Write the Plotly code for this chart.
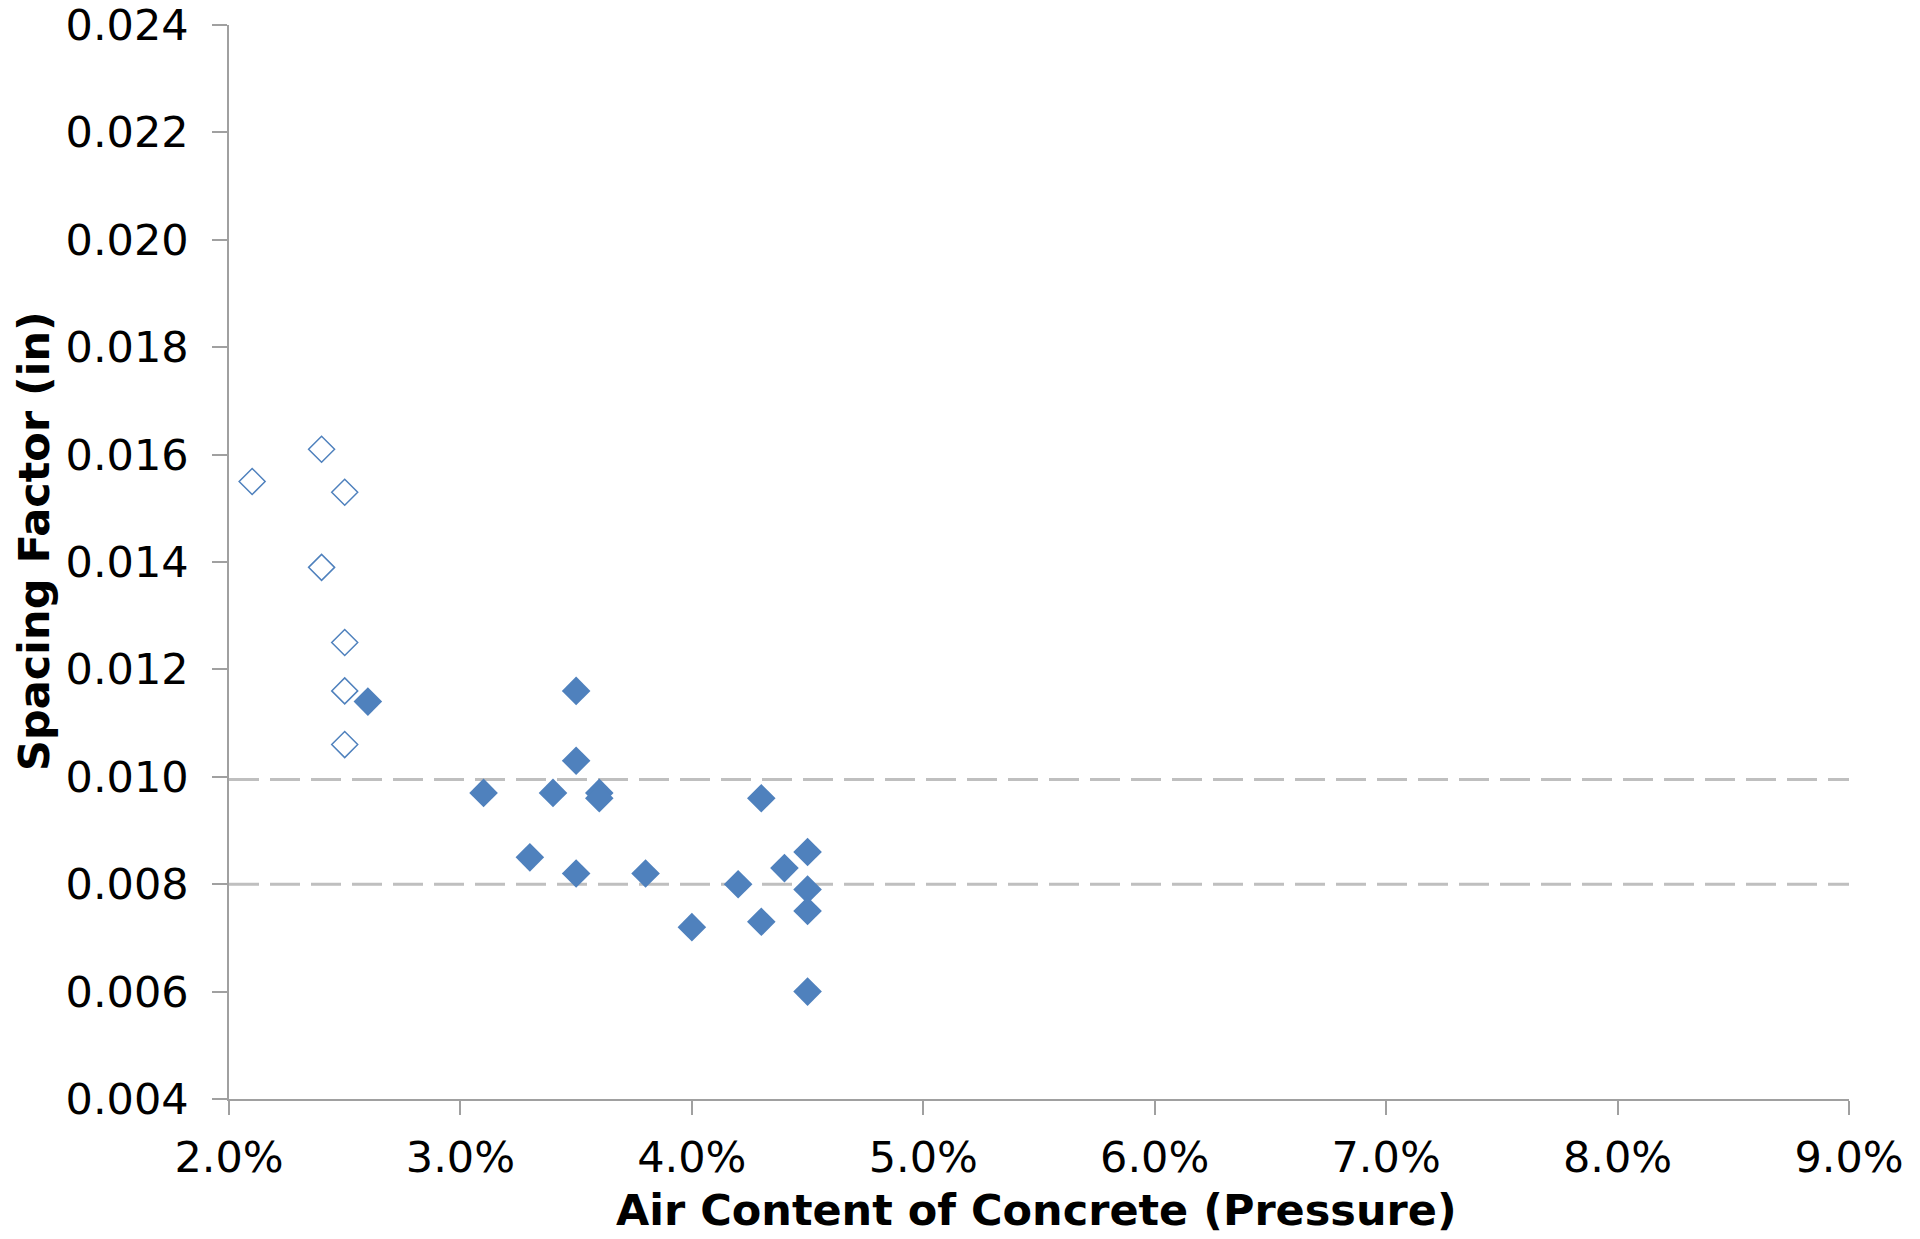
import plotly.graph_objects as go

# Data (air content as fraction, spacing factor in inches)
open_air = [0.021, 0.024, 0.025, 0.024, 0.025, 0.025, 0.025]
open_sf = [0.0155, 0.0161, 0.0153, 0.0139, 0.0125, 0.0116, 0.0106]

filled_air = [0.026, 0.031, 0.033, 0.034, 0.035, 0.035, 0.035, 0.036, 0.036, 0.038,
              0.040, 0.042, 0.043, 0.043, 0.044, 0.045, 0.045, 0.045, 0.045]
filled_sf = [0.0114, 0.0097, 0.0085, 0.0097, 0.0116, 0.0103, 0.0082, 0.0097, 0.0096, 0.0082,
             0.0072, 0.0080, 0.0096, 0.0073, 0.0083, 0.0086, 0.0079, 0.0075, 0.0060]

limit_lines = [0.00995, 0.0080]

x_range = [0.02, 0.09]
y_range = [0.004, 0.024]

BLUE = "#4F81BD"
AXIS = "#A0A0A0"
FONT = "DejaVu Sans"

fig = go.Figure()

fig.add_trace(go.Scatter(
    x=open_air, y=open_sf, mode="markers",
    marker=dict(symbol="diamond-open", size=20, color=BLUE, line=dict(width=1.5, color=BLUE)),
    showlegend=False,
))
fig.add_trace(go.Scatter(
    x=filled_air, y=filled_sf, mode="markers",
    marker=dict(symbol="diamond", size=22, color=BLUE, line=dict(width=0)),
    showlegend=False,
))

for yv in limit_lines:
    fig.add_shape(type="line", xref="x", yref="y", x0=x_range[0], x1=x_range[1], y0=yv, y1=yv,
                  line=dict(color="#BFBFBF", width=3, dash="30px,11px"), layer="below")

fig.update_layout(
    width=1920, height=1239,
    margin=dict(l=229, r=71, t=25, b=140),
    paper_bgcolor="white", plot_bgcolor="white",
    font=dict(family=FONT, size=43, color="black"),
    xaxis=dict(range=x_range, dtick=0.01, tick0=0.02, tickformat=".1%", automargin=False,
               showgrid=False, zeroline=False, showline=True, linecolor=AXIS, linewidth=1.5,
               ticks="outside", ticklen=14, tickwidth=1.5, tickcolor=AXIS,
               tickfont=dict(family=FONT, size=43), ticklabelstandoff=6),
    yaxis=dict(range=y_range, dtick=0.002, tick0=0.004, tickformat=".3f", automargin=False,
               showgrid=False, zeroline=False, showline=True, linecolor=AXIS, linewidth=1.5,
               ticks="outside", ticklen=15, tickwidth=1.5, tickcolor=AXIS,
               tickfont=dict(family=FONT, size=43), ticklabelstandoff=15),
    annotations=[
        dict(text="<b>Air Content of Concrete (Pressure)</b>", xref="paper", yref="paper",
             x=0.4985, y=-0.1035, xanchor="center", yanchor="middle", showarrow=False,
             font=dict(family=FONT, size=43, color="black")),
        dict(text="<b>Spacing Factor (in)</b>", xref="paper", yref="paper",
             x=-0.1204, y=0.5196, xanchor="center", yanchor="middle", showarrow=False,
             textangle=-90, font=dict(family=FONT, size=43, color="black")),
    ],
)

fig.write_html("out.html")
